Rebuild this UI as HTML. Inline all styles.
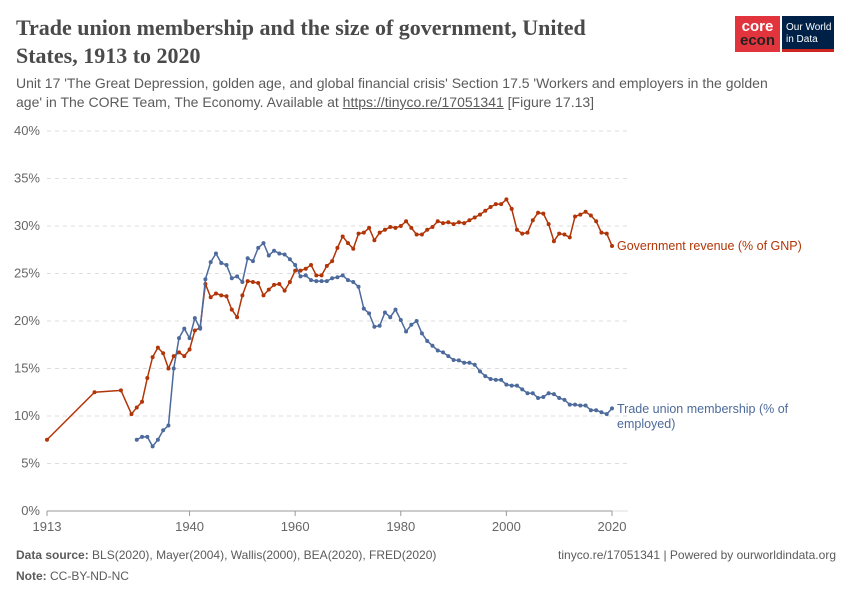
<!DOCTYPE html>
<html><head><meta charset="utf-8"><style>
body{margin:0;background:#fff;width:850px;height:600px;overflow:hidden;font-family:"Liberation Sans",sans-serif;position:relative}
.t{position:absolute}
</style></head><body>
<div class="t" style="left:16px;top:14px;width:610px;font-family:'Liberation Serif',serif;font-size:22px;line-height:28px;color:#4a4a4a;font-weight:bold">Trade union membership and the size of government, United States, 1913 to 2020</div>
<div class="t" style="left:16px;top:74px;width:775px;font-size:14px;line-height:19px;color:#5b5b5b">Unit 17 'The Great Depression, golden age, and global financial crisis' Section 17.5 'Workers and employers in the golden age' in The CORE Team, The Economy. Available at <span style="text-decoration:underline">https://tinyco.re/17051341</span> [Figure 17.13]</div>
<div class="t" style="left:735px;top:16px;width:45px;height:36px;background:#e2343d;color:#fff;font-weight:bold;font-size:15px;line-height:14px;text-align:center;padding-top:4px;box-sizing:border-box">core<br><span style="color:#222">econ</span></div>
<div class="t" style="left:782px;top:16px;width:52px;height:36px;background:#002147;color:#fff;font-size:10px;line-height:12px;padding:6px 0 0 4px;box-sizing:border-box;border-bottom:3px solid #ce261e;white-space:nowrap;overflow:hidden">Our World<br>in Data</div>
<svg id="chart" class="t" style="left:0;top:0" width="850" height="600"></svg>
<div class="t" style="left:16px;top:548px;font-size:12px;color:#5b5b5b"><b>Data source:</b> BLS(2020), Mayer(2004), Wallis(2000), BEA(2020), FRED(2020)</div>
<div class="t" style="left:16px;top:569px;font-size:12px;color:#5b5b5b"><b>Note:</b> CC-BY-ND-NC</div>
<div class="t" style="right:14px;top:548px;font-size:12px;color:#5b5b5b">tinyco.re/17051341 | Powered by ourworldindata.org</div>
<script>
const govYears=[1913,1922,1927,1929,1930,1931,1932,1933,1934,1935,1936,1937,1938,1939,1940,1941,1942,1943,1944,1945,1946,1947,1948,1949,1950,1951,1952,1953,1954,1955,1956,1957,1958,1959];
const govVals=[7.5,12.5,12.7,10.2,10.9,11.5,14.0,16.2,17.2,16.6,15.0,16.3,16.7,16.3,17.0,19.0,19.3,23.9,22.5,22.9,22.7,22.6,21.2,20.4,22.7,24.2,24.1,24.0,22.7,23.3,23.8,23.9,23.2,24.1];
const govLate=[25.3,25.3,25.5,25.9,24.8,24.8,25.8,26.3,27.7,28.9,28.2,27.6,29.2,29.3,29.8,28.5,29.3,29.6,29.9,29.8,30.0,30.5,29.8,29.1,29.1,29.6,29.9,30.5,30.3,30.4,30.2,30.4,30.3,30.6,30.9,31.2,31.6,32.0,32.3,32.3,32.8,31.8,29.6,29.2,29.3,30.6,31.4,31.3,30.2,28.4,29.2,29.1,28.8,31.0,31.2,31.5,31.1,30.5,29.3,29.2,27.9];
const unionEarly=[7.5,7.8,7.8,6.8,7.5,8.5,9.0,15.0,18.2,19.2,18.2,20.3,19.2,24.4,26.2,27.1,26.1,25.9,24.5,24.7,24.1,26.6,26.3,27.7,28.2,26.9,27.4,27.1,27.0,26.5];
const unionLate=[25.9,24.7,24.8,24.3,24.2,24.2,24.2,24.5,24.6,24.8,24.3,24.1,23.6,21.3,20.8,19.4,19.5,20.9,20.4,21.2,20.1,18.9,19.6,20.0,18.7,17.9,17.4,16.9,16.7,16.3,15.9,15.85,15.6,15.6,15.4,14.7,14.2,13.9,13.8,13.8,13.3,13.2,13.2,12.8,12.4,12.4,11.9,12.0,12.4,12.3,11.9,11.7,11.2,11.2,11.1,11.1,10.6,10.6,10.4,10.2,10.8];
const yTicks=[0,5,10,15,20,25,30,35,40];
const xTicks=[1913,1940,1960,1980,2000,2020];
const gov=govYears.map((y,i)=>[y,govVals[i]]).concat(govLate.map((v,i)=>[1960+i,v]));
const uni=unionEarly.map((v,i)=>[1930+i,v]).concat(unionLate.map((v,i)=>[1960+i,v]));
const X=y=>47+(y-1913)*565/107, Y=v=>511-v*9.5;
const svg=document.getElementById('chart'),NS='http://www.w3.org/2000/svg';
function mk(t,a){const e=document.createElementNS(NS,t);for(const k in a)e.setAttribute(k,a[k]);svg.appendChild(e);return e;}
yTicks.forEach(v=>{
 const l=mk('line',{x1:47,x2:628,y1:Y(v),y2:Y(v),stroke:'#ddd','stroke-dasharray':v?'4,4':'none'});
 
 
 const t=mk('text',{x:40,y:Y(v)+4,'text-anchor':'end','font-size':13,fill:'#666','font-family':'Liberation Sans'});
 t.textContent=v+'%';
 
 
});
const ax=mk('line',{x1:47,x2:612,y1:511,y2:511,stroke:'#999'});


xTicks.forEach(y=>{
 const tk=mk('line',{x1:X(y),x2:X(y),y1:511,y2:516,stroke:'#999'});
 
 
 const t=mk('text',{x:X(y),y:531,'text-anchor':'middle','font-size':13,fill:'#666','font-family':'Liberation Sans'});
 t.textContent=y;
 
 
});
function series(d,c,name){
 const p=mk('polyline',{points:d.map(a=>X(a[0])+','+Y(a[1])).join(' '),fill:'none',stroke:c,'stroke-width':1.5});
 
 
 d.forEach(a=>{const c2=mk('circle',{cx:X(a[0]),cy:Y(a[1]),r:2,fill:c});
  
  });
}
series(gov,'#b13507','government-revenue');
series(uni,'#4c6a9c','trade-union');
const g=mk('text',{x:617,y:250,'font-size':12.5,fill:'#b13507','font-family':'Liberation Sans'});
g.textContent='Government revenue (% of GNP)';


const u1=mk('text',{x:617,y:413,'font-size':12.5,fill:'#4c6a9c','font-family':'Liberation Sans'});
u1.textContent='Trade union membership (% of';


const u2=mk('text',{x:617,y:428,'font-size':12.5,fill:'#4c6a9c','font-family':'Liberation Sans'});
u2.textContent='employed)';


</script>
</body></html>
